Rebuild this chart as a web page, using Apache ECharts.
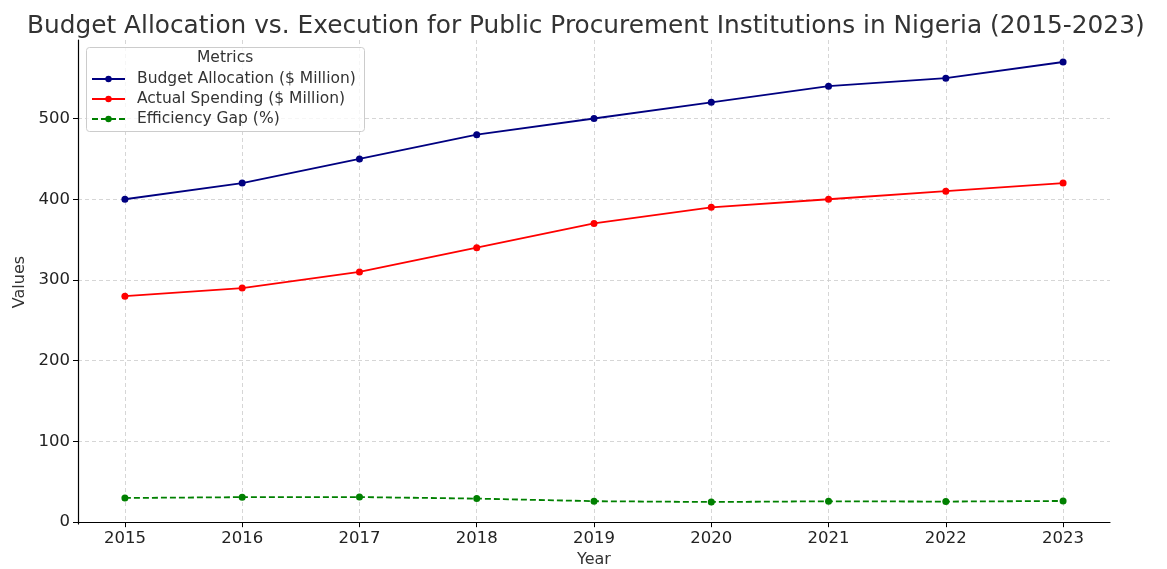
<!DOCTYPE html>
<html>
<head>
<meta charset="utf-8">
<script src="https://cdn.jsdelivr.net/npm/echarts@6/dist/echarts.min.js"></script>
<style>
  html, body { margin: 0; padding: 0; background: #fff; }
  #chart { width: 1167px; height: 569px; }
</style>
</head>
<body>
<div id="chart"></div>
<script>
var chart = echarts.init(document.getElementById('chart'), null, { renderer: 'canvas' });

var years = [2015, 2016, 2017, 2018, 2019, 2020, 2021, 2022, 2023];
var budget = [400, 420, 450, 480, 500, 520, 540, 550, 570];
var spending = [280, 290, 310, 340, 370, 390, 400, 410, 420];
var gap = [30, 31, 31.1, 29.2, 26, 25, 25.9, 25.5, 26.3];
var yTicks = [0, 100, 200, 300, 400, 500];

function pairs(vals) {
    var out = [];
    for (var i = 0; i < years.length; i++) out.push([years[i], vals[i]]);
    return out;
}

var font = 'DejaVu Sans';

chart.setOption({
    animation: false,
    title: {
        text: 'Budget Allocation vs. Execution for Public Procurement Institutions in Nigeria (2015-2023)',
        left: 22,
        top: 9,
        textStyle: { fontFamily: font, fontSize: 24.8, fontWeight: 'normal', color: '#333' }
    },
    grid: { left: 78, right: 57, top: 40, bottom: 45, outerBoundsMode: 'none' },
    legend: {
        orient: 'vertical',
        left: 86,
        top: 66,
        itemGap: 4,
        itemWidth: 33,
        itemHeight: 8,
        z: 10,
        textStyle: { fontFamily: font, fontSize: 15.5, color: '#333', padding: [0, 0, 0, 7] },
        data: ['Budget Allocation ($ Million)', 'Actual Spending ($ Million)', 'Efficiency Gap (%)']
    },
    graphic: [
        {
            type: 'rect',
            left: 86, top: 47,
            shape: { width: 278, height: 84, r: 3 },
            style: { fill: 'rgba(255,255,255,0.8)', stroke: '#ccc', lineWidth: 1 },
            z: 1
        },
        {
            type: 'text',
            left: 197, top: 50,
            style: { text: 'Metrics', font: '15.5px "DejaVu Sans"', fill: '#333' },
            z: 2
        }
    ],
    xAxis: {
        type: 'value',
        name: 'Year',
        nameLocation: 'middle',
        nameGap: 27,
        nameTextStyle: { fontFamily: font, fontSize: 16, color: '#333' },
        min: 2014.6,
        max: 2023.4,
        axisLine: { show: true, lineStyle: { color: '#000', width: 1.2 } },
        axisTick: { show: true, length: 5, lineStyle: { color: '#000' }, customValues: years },
        axisLabel: {
            fontFamily: font, fontSize: 16.5, color: '#222', margin: 6, customValues: years,
            formatter: function (v) { return String(v); }
        },
        splitLine: { show: true, lineStyle: { color: '#ccc', type: [4, 3], width: 0.8 }, customValues: years }
    },
    yAxis: {
        type: 'value',
        name: 'Values',
        nameLocation: 'middle',
        nameGap: 50,
        nameTextStyle: { fontFamily: font, fontSize: 16, color: '#333' },
        min: -2.25,
        max: 597.25,
        axisLine: { show: true, lineStyle: { color: '#000', width: 1.2 } },
        axisTick: { show: true, length: 5, lineStyle: { color: '#000' }, customValues: yTicks },
        axisLabel: { fontFamily: font, fontSize: 16.5, color: '#222', margin: 8, customValues: yTicks },
        splitLine: { show: true, lineStyle: { color: '#ccc', type: [4, 3], width: 0.8 }, customValues: yTicks }
    },
    series: [
        {
            name: 'Budget Allocation ($ Million)',
            type: 'line',
            data: pairs(budget),
            symbol: 'circle',
            symbolSize: 7,
            itemStyle: { color: '#000080' },
            lineStyle: { color: '#000080', width: 1.8 }
        },
        {
            name: 'Actual Spending ($ Million)',
            type: 'line',
            data: pairs(spending),
            symbol: 'circle',
            symbolSize: 7,
            itemStyle: { color: '#ff0000' },
            lineStyle: { color: '#ff0000', width: 1.8 }
        },
        {
            name: 'Efficiency Gap (%)',
            type: 'line',
            data: pairs(gap),
            symbol: 'circle',
            symbolSize: 7,
            itemStyle: { color: '#008000' },
            lineStyle: { color: '#008000', width: 1.8, type: [6, 3] }
        }
    ]
});
</script>
</body>
</html>
